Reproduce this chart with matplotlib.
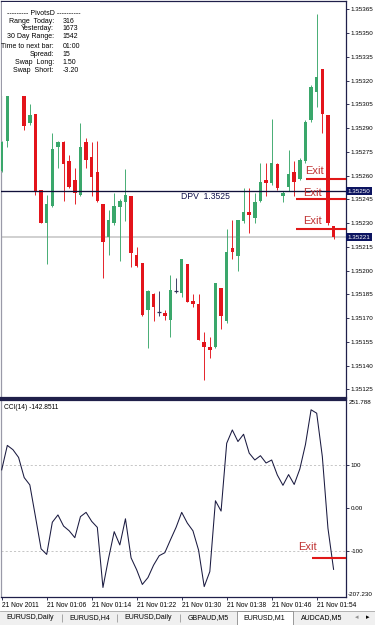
import matplotlib
matplotlib.use("Agg")
import matplotlib.pyplot as plt
from matplotlib.patches import Rectangle
from matplotlib.transforms import blended_transform_factory

plt.rcParams['font.family'] = ['Liberation Sans', 'DejaVu Sans']

# ---------------- data ----------------
opens = [1.35263, 1.35282, 1.35318, 1.35325, 1.35318, 1.35293, 1.35299, 1.35251, 1.35230, 1.35241,
         1.35278, 1.35281, 1.35269, 1.35257, 1.35248, 1.35281, 1.35272, 1.35262, 1.35242, 1.35221,
         1.35230, 1.35240, 1.35243, 1.35247, 1.35210, 1.35205, 1.35175, 1.35185, 1.35174, 1.35173,
         1.35169, 1.35187, 1.35186, 1.35204, 1.35181, 1.35179, 1.35155, 1.35152, 1.35152, 1.35189,
         1.35168, 1.35214, 1.35209, 1.35231, 1.35237, 1.35233, 1.35244, 1.35257, 1.35255, 1.35267,
         1.35247, 1.35253, 1.35262, 1.35258, 1.35269, 1.35295, 1.35313, 1.35327, 1.35298, 1.35228]
closes = [1.35281, 1.35318, 1.35325, 1.35318, 1.35291, 1.35298, 1.35250, 1.35230, 1.35242, 1.35277,
          1.35281, 1.35267, 1.35253, 1.35249, 1.35278, 1.35270, 1.35259, 1.35244, 1.35218, 1.35232,
          1.35241, 1.35244, 1.35248, 1.35211, 1.35203, 1.35172, 1.35187, 1.35177, 1.35174, 1.35171,
          1.35188, 1.35187, 1.35207, 1.35180, 1.35179, 1.35156, 1.35152, 1.35150, 1.35192, 1.35171,
          1.35212, 1.35212, 1.35232, 1.35237, 1.35235, 1.35243, 1.35256, 1.35255, 1.35268, 1.35252,
          1.35249, 1.35261, 1.35256, 1.35270, 1.35294, 1.35316, 1.35322, 1.35299, 1.35230, 1.35221]
highs = [1.35282, 1.35322, 1.35330, 1.35328, 1.35321, 1.35305, 1.35299, 1.35251, 1.35248, 1.35287,
         1.35282, 1.35282, 1.35273, 1.35265, 1.35293, 1.35284, 1.35281, 1.35282, 1.35242, 1.35238,
         1.35249, 1.35245, 1.35264, 1.35247, 1.35215, 1.35205, 1.35188, 1.35186, 1.35187, 1.35175,
         1.35197, 1.35195, 1.35207, 1.35204, 1.35185, 1.35185, 1.35161, 1.35158, 1.35192, 1.35189,
         1.35226, 1.35232, 1.35232, 1.35252, 1.35252, 1.35249, 1.35268, 1.35268, 1.35296, 1.35268,
         1.35250, 1.35276, 1.35269, 1.35271, 1.35295, 1.35317, 1.35362, 1.35327, 1.35298, 1.35228]
lows = [1.35262, 1.35278, 1.35314, 1.35315, 1.35289, 1.35292, 1.35248, 1.35230, 1.35204, 1.35240,
        1.35265, 1.35244, 1.35252, 1.35242, 1.35247, 1.35265, 1.35247, 1.35243, 1.35195, 1.35210,
        1.35229, 1.35206, 1.35231, 1.35202, 1.35202, 1.35171, 1.35151, 1.35168, 1.35171, 1.35169,
        1.35158, 1.35186, 1.35183, 1.35180, 1.35177, 1.35156, 1.35131, 1.35145, 1.35151, 1.35163,
        1.35167, 1.35207, 1.35200, 1.35230, 1.35224, 1.35230, 1.35243, 1.35247, 1.35254, 1.35251,
        1.35243, 1.35250, 1.35247, 1.35257, 1.35268, 1.35294, 1.35303, 1.35287, 1.35229, 1.35220]
cci = [89, 146, 136, 118, 71, 54, -20, -95, -108, -33,
       -16, -42, -53, -69, -20, -10, -31, -45, -185, -117,
       -55, -86, -25, -116, -144, -178, -162, -133, -111, -104,
       -74, -45, -10, -35, -53, -98, -183, -148, 17, -7,
       151, 182, 155, 172, 128, 112, 122, 105, 112, 77,
       53, 78, 55, 91, 148, 229, 221, 120, -47, -142.8511]

price_ticks = [1.35125, 1.35140, 1.35155, 1.35170, 1.35185, 1.35200, 1.35215, 1.35230, 1.35245,
               1.35260, 1.35275, 1.35290, 1.35305, 1.35320, 1.35335, 1.35350, 1.35365]
dpv_level = 1.35250
bid_price = 1.35221
exit_prices = [1.35258, 1.35245, 1.35226]
exit_start_bars = [54.1, 52.3, 52.4]
cci_exit_level = -117
cci_exit_start = 55.1
cci_levels = [100, -100]
cci_min, cci_max = -207.230, 251.788
time_tick_bars = [0, 8, 16, 24, 32, 40, 48, 56]
time_labels = ["21 Nov 2011", "21 Nov 01:06", "21 Nov 01:14", "21 Nov 01:22",
               "21 Nov 01:30", "21 Nov 01:38", "21 Nov 01:46", "21 Nov 01:54"]
pivot_labels = ["Range  Today:", "Yesterday:", "30 Day Range:", "Time to next bar:",
                "Spread:", "Swap  Long:", "Swap  Short:"]
pivot_values = ["316", "1673", "1542", "01:00", "15", "1.50", "-3.20"]
tabs = ["EURUSD,Daily", "EURUSD,H4", "EURUSD,Daily", "GBPAUD,M5", "EURUSD,M1", "AUDCAD,M5"]
active_tab = 4

# ---------------- layout ----------------
W, H = 375, 625
BAR_PX, X0_PX = 5.625, 1.7
AX_L, AX_R = 0.5, 345.7
MAIN_T, MAIN_B = 1.0, 398.0
CCI_T, CCI_B = 400.0, 597.0
UP, DOWN, DOJI = '#3AA76B', '#E3141B', '#33335A'
NAVY = '#0C1460'


def fx(x):
    return x / W


def fy(y):
    return 1 - y / H


fig = plt.figure(figsize=(W / 100, H / 100), dpi=100, facecolor='white')
xlim = ((AX_L - X0_PX) / BAR_PX, (AX_R - X0_PX) / BAR_PX)

ax = fig.add_axes([fx(AX_L), fy(MAIN_B), (AX_R - AX_L) / W, (MAIN_B - MAIN_T) / H])
axc = fig.add_axes([fx(AX_L), fy(CCI_B), (AX_R - AX_L) / W, (CCI_B - CCI_T) / H])

# ---- main candles ----
n = len(opens)
xs = list(range(n))
ppx = 0.00015 / 23.75
ax.set_xlim(*xlim)
ax.set_ylim(1.35365 - (MAIN_B - 9.3) * ppx, 1.35365 + (9.3 - MAIN_T) * ppx)

ax.axhline(bid_price, color='#C4C4C4', lw=1.1, zorder=1)
for i in xs:
    o, h, l, c = opens[i], highs[i], lows[i], closes[i]
    col = UP if c > o else (DOWN if c < o else DOJI)
    ax.vlines(i, l, h, colors=col, lw=0.65, zorder=2)
    if c == o:
        ax.hlines(o, i - 0.32, i + 0.32, colors=col, lw=0.9, zorder=3)
    else:
        ax.bar(i, abs(c - o), bottom=min(o, c), width=0.62, color=col, lw=0, zorder=3)
ax.axhline(dpv_level, color='#10103A', lw=0.95, zorder=4)
for p, s in zip(exit_prices, exit_start_bars):
    ax.hlines(p, s, xlim[1], colors='#E01818', lw=1.5, zorder=5)

ax.set_xticks([])
ax.yaxis.tick_right()
ax.set_yticks(price_ticks)
ax.set_yticklabels([f"{v:.5f}" for v in price_ticks])
ax.tick_params(axis='y', length=2.2, width=0.6, pad=1.2, labelsize=4.5, colors='#10103A',
               labelcolor='black')
for side, col, lw in [('top', '#20204A', 0.9), ('left', '#9A9AA8', 0.9),
                      ('right', '#20204A', 0.9), ('bottom', '#20204A', 1.6)]:
    ax.spines[side].set_color(col)
    ax.spines[side].set_linewidth(lw)

tr = blended_transform_factory(ax.transAxes, ax.transData)
for v in (dpv_level, bid_price):
    ax.text(1.0 + 2.0 / (AX_R - AX_L), v, f"{v:.5f}", transform=tr, fontsize=4.5, color='white',
            ha='left', va='center', clip_on=False, zorder=6,
            bbox=dict(boxstyle='square,pad=0.25', fc=NAVY, ec='none'))

# ---- CCI ----
axc.set_xlim(*xlim)
axc.set_ylim(cci_min, cci_max)
for lv in cci_levels:
    axc.axhline(lv, color='#BDBDBD', lw=0.6, ls=(0, (2.5, 2.5)), zorder=1)
axc.plot(xs, cci, color='#1A1A40', lw=0.75, zorder=3)
axc.hlines(cci_exit_level, cci_exit_start, xlim[1], colors='#E01818', lw=1.5, zorder=4)
axc.yaxis.tick_right()
axc.set_yticks([100, 0, -100])
axc.set_yticklabels(["100", "0.00", "-100"])
axc.tick_params(axis='y', length=2.2, width=0.6, pad=1.2, labelsize=4.5, colors='#10103A',
                labelcolor='black')
trc = blended_transform_factory(axc.transAxes, axc.transData)
axc.text(1.0 + 3.0 / (AX_R - AX_L), cci_max, f"{cci_max:.3f}", transform=trc, fontsize=4.5,
         ha='left', va='top', clip_on=False)
axc.text(1.0 + 2.0 / (AX_R - AX_L), cci_min, f"{cci_min:.3f}", transform=trc, fontsize=4.5,
         ha='left', va='bottom', clip_on=False)
axc.set_xticks(time_tick_bars)
axc.set_xticklabels(time_labels, ha='left')
axc.tick_params(axis='x', length=2.5, width=0.6, pad=1.2, labelsize=4.8, colors='#10103A',
                labelcolor='black')
for side, col, lw in [('top', '#20204A', 1.6), ('left', '#9A9AA8', 0.9),
                      ('right', '#20204A', 0.9), ('bottom', '#20204A', 0.9)]:
    axc.spines[side].set_color(col)
    axc.spines[side].set_linewidth(lw)

fig.text(fx(4), fy(407.7), f"CCI(14) {cci[-1]:.4f}", fontsize=4.8, ha='left', va='center')

# ---- PivotsD info panel (opaque) ----
fig.add_artist(Rectangle((fx(1.5), fy(95.7)), fx(100) - fx(1.5), fy(1.8) - fy(95.7),
                         transform=fig.transFigure, fc='white', ec='none', zorder=2))
fig.text(fx(6.7), fy(13.3), "--------- PivotsD ----------", fontsize=5, ha='left', va='center')
row_y = [21.3, 29.0, 36.7, 46.7, 54.3, 62.3, 70.0]
for lab, val, yy in zip(pivot_labels, pivot_values, row_y):
    fig.text(fx(54), fy(yy), lab, fontsize=5, ha='right', va='center')
    fig.text(fx(62.3), fy(yy), val, fontsize=5, ha='left', va='center')

# ---- annotations ----
fig.text(fx(181), fy(197), "DPV  1.3525", fontsize=6.2, color='#10104A', ha='left', va='center')
for xx, yy in [(305, 171), (303.3, 193), (302.7, 221)]:
    fig.text(fx(xx), fy(yy), "Exit", fontsize=8, color='#C03232', ha='left', va='center', zorder=6)
fig.text(fx(298), fy(547), "Exit", fontsize=8, color='#C03232', ha='left', va='center')

# ---- tab bar ----
axt = fig.add_axes([0, 0, 1, 14 / H])
axt.set_xlim(0, W)
axt.set_ylim(0, 14)
axt.set_facecolor('#F0F0F0')
axt.set_xticks([])
axt.set_yticks([])
for s in axt.spines.values():
    s.set_visible(False)
axt.axhline(13.6, color='#A8A8A8', lw=0.6)
tab_cx = [30, 90, 148.5, 208.5, 264, 322]
for k, (name, cx) in enumerate(zip(tabs, tab_cx)):
    if k == active_tab:
        axt.add_patch(Rectangle((237, -1), 56, 14.6, fc='white', ec='#8A8A8A', lw=0.6, zorder=2))
    axt.text(cx, 7.3, name, fontsize=5, ha='center', va='center', zorder=3)
for sx in [61.7, 117, 180]:
    axt.vlines(sx, 3, 11, colors='#9A9A9A', lw=0.6)
axt.text(357, 7.3, "◂", fontsize=5, color='#909090', ha='center', va='center')
axt.text(368, 7.3, "▸", fontsize=5, color='black', ha='center', va='center')

fig.savefig("out.png", dpi=100, facecolor='white')
